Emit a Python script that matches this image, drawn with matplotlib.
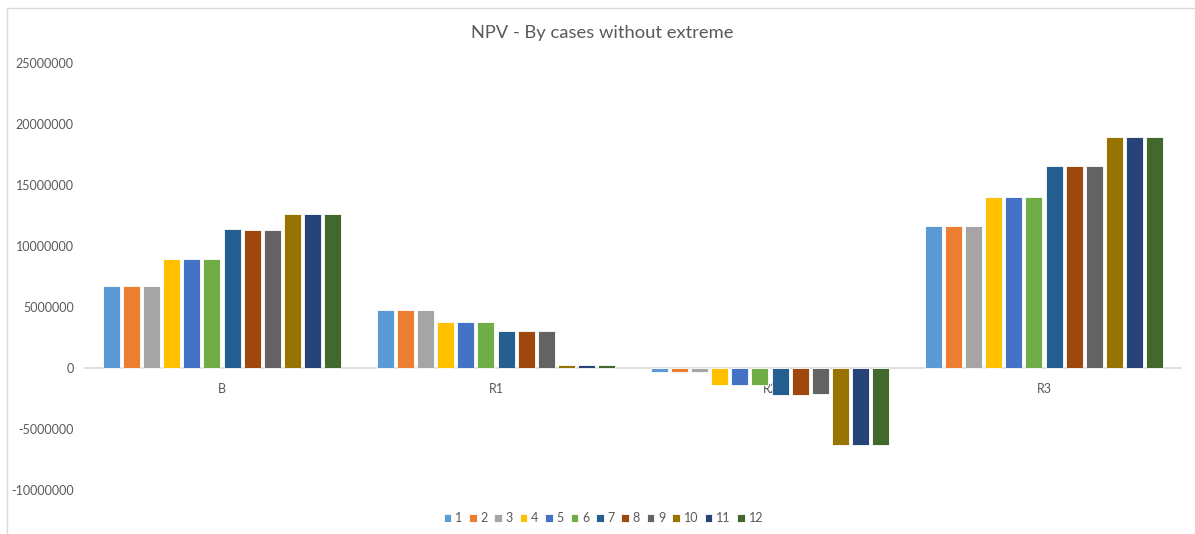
import numpy as np
import matplotlib.pyplot as plt
from matplotlib.lines import Line2D

plt.rcParams['font.family'] = ['Lato', 'DejaVu Sans']

# ---- Data ----
cases = ['B', 'R1', 'R2', 'R3']
series_names = [str(i) for i in range(1, 13)]

npv_b = [6750000, 6750000, 6750000, 8930000, 8930000, 8930000,
         11370000, 11310000, 11310000, 12650000, 12650000, 12650000]
npv_r1 = [4750000, 4750000, 4750000, 3740000, 3740000, 3740000,
          3060000, 3060000, 3060000, 220000, 220000, 220000]
npv_r2 = [-330000, -330000, -330000, -1380000, -1380000, -1380000,
          -2200000, -2200000, -2150000, -6300000, -6300000, -6300000]
npv_r3 = [11660000, 11660000, 11660000, 13990000, 13990000, 13990000,
          16580000, 16580000, 16580000, 18900000, 18900000, 18900000]

colors = ['#5B9BD5', '#ED7D31', '#A5A5A5', '#FFC000', '#4472C4', '#70AD47',
          '#255E91', '#9E480E', '#636363', '#997300', '#264478', '#43682B']

values = np.array([npv_b, npv_r1, npv_r2, npv_r3])  # rows = cases, cols = series

# ---- Plot ----
fig = plt.figure(figsize=(11.95, 5.34), dpi=100)
ax = fig.add_axes([85 / 1195, 1 - 490 / 534, (1181 - 85) / 1195, (490 - 63) / 534])

x = np.arange(len(cases))
slot = 0.0735
bar_w = 0.062
for i, name in enumerate(series_names):
    ax.bar(x + (i - 5.5) * slot, values[:, i], width=bar_w, color=colors[i],
           edgecolor='white', linewidth=0.6, label=name, zorder=2)

ax.set_xlim(-0.5, len(cases) - 0.5)
ax.set_ylim(-10000000, 25000000)
ax.set_yticks(np.arange(-10000000, 25000001, 5000000))
ax.yaxis.set_major_formatter(plt.FuncFormatter(lambda v, p: f'{int(v)}'))

# category axis sits on the zero line
ax.spines['bottom'].set_position(('data', 0))
ax.spines['bottom'].set_color('#D9D9D9')
ax.spines['bottom'].set_linewidth(1.2)
ax.spines['bottom'].set_zorder(1)
for s in ['top', 'right', 'left']:
    ax.spines[s].set_visible(False)

ax.set_xticks(x)
ax.set_xticklabels(cases)
ax.tick_params(axis='x', length=0, pad=11, labelsize=9, labelcolor='#595959')
ax.tick_params(axis='y', length=0, pad=8, labelsize=9, labelcolor='#595959')

fig.text(0.504, 1 - 33 / 534, 'NPV - By cases without extreme', ha='center',
         va='center', fontsize=13.2, color='#595959')

fig.legend(loc='center', bbox_to_anchor=(0.505, 1 - 518 / 534), ncol=12,
           frameon=False, fontsize=9, labelcolor='#595959',
           handlelength=0.6, handleheight=0.6, handletextpad=0.3,
           columnspacing=0.55)

# chart border (top and left edges)
fig.add_artist(Line2D([7 / 1195, 7 / 1195], [0, 1 - 8 / 534],
                      transform=fig.transFigure, color='#D9D9D9', lw=1))
fig.add_artist(Line2D([7 / 1195, 1], [1 - 8 / 534, 1 - 8 / 534],
                      transform=fig.transFigure, color='#D9D9D9', lw=1))

fig.savefig('out.png', dpi=100, facecolor='white')
